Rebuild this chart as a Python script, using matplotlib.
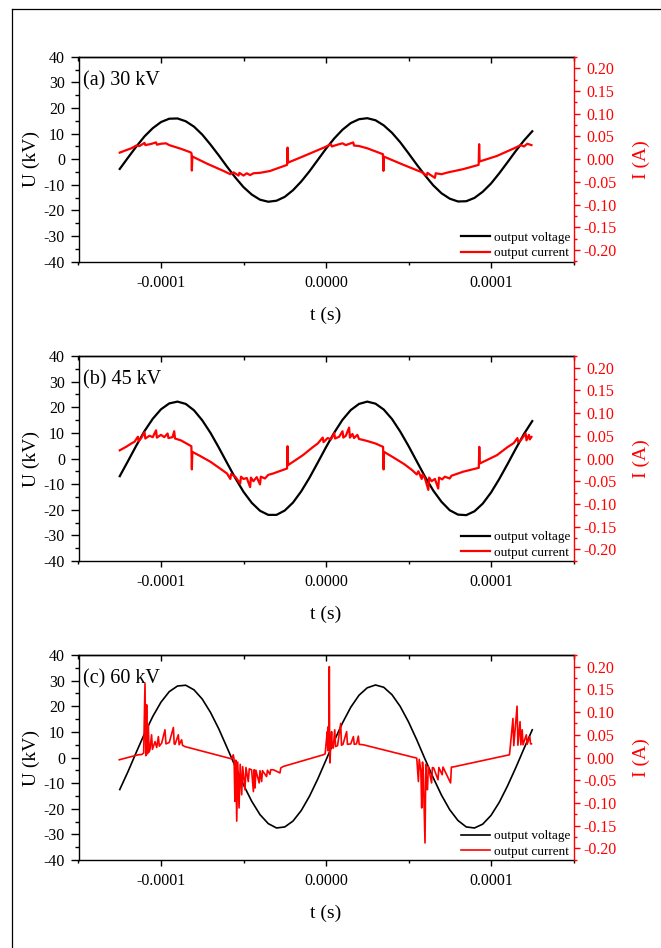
import matplotlib
matplotlib.use('Agg')
import numpy as np
import matplotlib.pyplot as plt
from matplotlib.lines import Line2D
from matplotlib.ticker import MultipleLocator, FormatStrFormatter

plt.rcParams['font.family'] = ['Liberation Serif', 'DejaVu Serif']
plt.rcParams['axes.unicode_minus'] = False

# Sampling instants of the voltage records, in microseconds
t_volt_us = [-125, -120, -115, -110, -105, -100, -95, -90, -85, -80,
             -75, -70, -65, -60, -55, -50, -45, -40, -35, -30,
             -25, -20, -15, -10, -5, 0, 5, 10, 15, 20,
             25, 30, 35, 40, 45, 50, 55, 60, 65, 70,
             75, 80, 85, 90, 95, 100, 105, 110, 115, 120, 125]

# Output voltage (kV)
volt_30kv = [-3.8, 0.6, 4.9, 8.9, 12.1, 14.5, 15.8, 15.9, 14.8, 12.7,
             9.6, 5.7, 1.5, -2.9, -7.1, -10.9, -13.8, -15.8, -16.6, -16.2,
             -14.7, -12.1, -8.7, -4.7, -0.3, 4.1, 8.1, 11.5, 14.1, 15.6,
             16.0, 15.2, 13.2, 10.3, 6.6, 2.3, -2.1, -6.3, -10.2, -13.3,
             -15.4, -16.5, -16.4, -15.1, -12.7, -9.5, -5.5, -1.2, 3.2, 7.3, 10.9]
volt_45kv = [-6.9, -1.0, 5.0, 10.7, 15.5, 19.2, 21.5, 22.2, 21.3, 18.8,
             14.9, 10.0, 4.3, -1.7, -7.6, -13.0, -17.3, -20.4, -22.0, -22.0,
             -20.3, -17.2, -12.8, -7.5, -1.6, 4.4, 10.1, 15.1, 18.9, 21.3,
             22.2, 21.4, 19.1, 15.4, 10.5, 4.9, -1.1, -7.1, -12.5, -16.9,
             -20.2, -21.9, -22.1, -20.6, -17.6, -13.3, -8.0, -2.2, 3.8, 9.6, 14.6]
volt_60kv = [-12.5, -5.5, 2.0, 9.3, 16.0, 21.6, 25.7, 27.9, 28.2, 26.4,
             22.8, 17.6, 11.2, 3.9, -3.5, -10.7, -17.1, -22.3, -25.8, -27.5,
             -27.1, -24.8, -20.7, -15.1, -8.4, -1.0, 6.5, 13.5, 19.6, 24.3,
             27.2, 28.3, 27.4, 24.5, 19.9, 13.9, 6.9, -0.6, -7.9, -14.7,
             -20.4, -24.6, -27.1, -27.5, -26.0, -22.6, -17.5, -11.1, -4.0, 3.5, 10.8]

# Output current as (t in microseconds, I in A)
cur_30kv = [(-125, 0.0145), (-121, 0.020), (-118, 0.024), (-115, 0.030), (-113, 0.029),
            (-110, 0.036), (-109.5, 0.031), (-106, 0.0336), (-103, 0.037), (-102.5, 0.032),
            (-100, 0.034), (-97, 0.035), (-95, 0.031), (-88, 0.023), (-82, 0.015),
            (-81.5, 0.013), (-81.3, -0.025), (-81.0, 0.006), (-72, -0.010), (-62, -0.026),
            (-58, -0.033), (-56, -0.029), (-53, -0.036), (-52.5, -0.030), (-50, -0.036),
            (-48, -0.031), (-46, -0.035), (-44, -0.031), (-40, -0.030), (-34, -0.026),
            (-23.6, -0.0125), (-23.3, 0.0255), (-23.0, -0.0075), (-14, 0.006), (-1, 0.026),
            (3, 0.033), (3.5, 0.028), (7, 0.032), (10, 0.035), (12, 0.031),
            (16.5, 0.037), (17, 0.030), (20, 0.029), (25, 0.024), (34.5, 0.011),
            (34.8, -0.0257), (35.1, 0.0057), (47, -0.0125), (58, -0.0286), (61, -0.036),
            (61.5, -0.030), (63, -0.034), (66, -0.041), (66.5, -0.031), (70, -0.033),
            (74, -0.029), (83, -0.022), (92.5, -0.0125), (92.8, 0.033), (93.1, -0.005),
            (103.5, 0.007), (114, 0.024), (118, 0.031), (120, 0.028), (122, 0.034),
            (124.5, 0.031)]

cur_45kv = [(-125, 0.018), (-121, 0.026), (-118, 0.033), (-116, 0.037), (-114, 0.048),
            (-113.5, 0.038), (-112, 0.045), (-110, 0.058), (-109.5, 0.044), (-107, 0.050),
            (-105, 0.047), (-103, 0.062), (-102.5, 0.046), (-100, 0.052), (-98, 0.047),
            (-96, 0.055), (-95.5, 0.045), (-93, 0.047), (-92, 0.060), (-91.5, 0.044),
            (-88, 0.040), (-85, 0.034), (-81.6, 0.027), (-81.3, -0.024), (-81.0, 0.0146),
            (-76, 0.005), (-70, -0.0073), (-65, -0.020), (-60, -0.033), (-58, -0.045),
            (-57.5, -0.034), (-55, -0.040), (-52, -0.055), (-51.5, -0.040), (-50, -0.045),
            (-48, -0.043), (-46, -0.063), (-45.5, -0.042), (-44, -0.050), (-42, -0.041),
            (-40, -0.057), (-39.5, -0.040), (-37, -0.044), (-35, -0.036), (-32, -0.033),
            (-29, -0.029), (-23.6, -0.022), (-23.3, 0.027), (-23.0, -0.0146), (-14, 0.0073),
            (-8, 0.025), (-5, 0.033), (-2, 0.046), (-1.5, 0.036), (1, 0.045),
            (3, 0.042), (5, 0.056), (5.5, 0.044), (8, 0.048), (10, 0.060),
            (10.5, 0.046), (12, 0.050), (14, 0.068), (14.5, 0.046), (16, 0.054),
            (17, 0.045), (19, 0.052), (20, 0.043), (24.5, 0.039), (30, 0.033),
            (34.6, 0.0256), (34.9, -0.024), (35.2, 0.0146), (41, 0.002), (47.4, -0.0124),
            (52, -0.025), (55, -0.035), (56, -0.028), (58, -0.045), (58.5, -0.035),
            (60, -0.044), (62, -0.069), (62.5, -0.042), (64, -0.050), (66, -0.045),
            (68, -0.066), (68.5, -0.042), (70.4, -0.046), (72, -0.040), (75, -0.044),
            (76, -0.038), (83.2, -0.029), (92.6, -0.0205), (92.9, 0.0256), (93.2, -0.011),
            (103.6, 0.0073), (110, 0.025), (113.8, 0.034), (116, 0.045), (116.5, 0.036),
            (118, 0.040), (121, 0.055), (121.5, 0.040), (123, 0.052), (123.5, 0.042),
            (124.5, 0.0475)]

cur_60kv = [(-125.3, -0.005), (-113.8, 0.006), (-111.7, 0.0065), (-110.5, 0.010), (-109.7, 0.163),
            (-109.2, 0.004), (-108.7, 0.116), (-108.2, 0.008), (-107.7, 0.072), (-107.2, 0.012),
            (-106.7, 0.017), (-105.7, 0.050), (-105.2, 0.018), (-103.6, 0.035), (-102.6, 0.022),
            (-101.6, 0.046), (-101.0, 0.025), (-99.6, 0.0316), (-97.6, 0.061), (-97.0, 0.030),
            (-95.0, 0.033), (-92.5, 0.066), (-92.0, 0.030), (-91.5, 0.029), (-89.5, 0.050),
            (-89.0, 0.028), (-87.5, 0.039), (-87.0, 0.027), (-85.5, 0.024), (-57.2, -0.003),
            (-56.2, 0.006), (-55.7, -0.004), (-55.2, -0.0965), (-54.7, -0.006), (-54.1, -0.140),
            (-53.5, -0.010), (-52.7, -0.111), (-52.0, -0.015), (-51.1, -0.082), (-50.5, -0.020),
            (-49.1, -0.071), (-48.5, -0.022), (-47.1, -0.053), (-46.5, -0.025), (-45.1, -0.027),
            (-44.0, -0.075), (-43.5, -0.027), (-43.0, -0.067), (-42.5, -0.028), (-40.5, -0.056),
            (-40.0, -0.029), (-39.0, -0.053), (-38.5, -0.029), (-36.0, -0.042), (-35.5, -0.028),
            (-34.0, -0.037), (-33.5, -0.027), (-31.9, -0.027), (-27.9, -0.034), (-27.4, -0.023),
            (-25.9, -0.0197), (-1.6, 0.006), (-0.5, 0.008), (0.3, 0.040), (0.8, 0.057),
            (1.1, 0.015), (1.4, 0.068), (1.7, 0.018), (2.0, 0.200), (2.2, 0.010),
            (2.4, -0.012), (2.8, 0.025), (3.4, 0.057), (3.8, 0.022), (4.4, 0.0206),
            (5.3, 0.061), (5.8, 0.024), (7.0, 0.026), (8.9, 0.075), (9.4, 0.027),
            (10.3, 0.029), (12.5, 0.057), (13.0, 0.029), (15.0, 0.030), (16.6, 0.046),
            (17.1, 0.029), (18.5, 0.030), (19.6, 0.047), (20.1, 0.029), (22.6, 0.028),
            (55.0, -0.0014), (56.0, -0.053), (56.5, -0.004), (57.5, -0.030), (58.0, -0.111),
            (58.5, -0.010), (59.0, -0.040), (60.0, -0.188), (60.5, -0.015), (61.0, -0.067),
            (61.5, -0.071), (62.0, -0.020), (64.0, -0.056), (64.5, -0.022), (65.3, -0.0234),
            (67.9, -0.049), (68.4, -0.022), (70.4, -0.038), (70.9, -0.021), (75.5, -0.056),
            (76.0, -0.021), (76.8, -0.021), (111.2, 0.006), (111.7, 0.024), (113.3, 0.086),
            (113.8, 0.026), (115.8, 0.113), (116.3, 0.027), (117.6, 0.079), (118.1, 0.028),
            (118.9, 0.061), (119.4, 0.028), (121.4, 0.050), (121.9, 0.029), (123.5, 0.046),
            (124.0, 0.030), (124.5, 0.030)]

panel_tags = ['(a) 30 kV', '(b) 45 kV', '(c) 60 kV']

W, H = 661, 948
fig = plt.figure(figsize=(W / 100, H / 100), dpi=100)

# page frame (left and top edges only)
fig.add_artist(Line2D([11.5 / W, 11.5 / W], [0, 1 - 9.3 / H], transform=fig.transFigure,
                      color='black', lw=0.9))
fig.add_artist(Line2D([11.5 / W, 1], [1 - 9.3 / H, 1 - 9.3 / H], transform=fig.transFigure,
                      color='black', lw=0.9))

ax_left = 78.5 / W
ax_width = 495 / W
ax_height = 205 / H
ax_bottoms_px = [261.7, 561.0, 860.0]


def draw_panel(bottom_px, volt, cur, tag, cur_lw, volt_lw):
    ax = fig.add_axes([ax_left, 1 - bottom_px / H, ax_width, ax_height])
    t_v = np.array(t_volt_us) * 1e-6
    lv, = ax.plot(t_v, volt, color='black', lw=volt_lw, label='output voltage')
    ax.set_xlim(-1.5e-4, 1.5e-4)
    ax.set_ylim(-40, 40)
    ax.xaxis.set_major_locator(MultipleLocator(1e-4))
    ax.xaxis.set_minor_locator(MultipleLocator(0.5e-4))
    ax.xaxis.set_major_formatter(FormatStrFormatter('%.4f'))
    ax.yaxis.set_major_locator(MultipleLocator(10))
    ax.yaxis.set_minor_locator(MultipleLocator(5))
    ax.tick_params(axis='both', which='both', direction='out', width=1.0,
                   labelsize=11.5, right=False, top=False)
    ax.tick_params(axis='y', which='major', length=5.5, pad=4.2)
    ax.tick_params(axis='y', which='minor', length=3)
    ax.tick_params(axis='x', which='major', length=4, pad=5.5)
    ax.tick_params(axis='x', which='minor', length=2.2)
    ax.spines['right'].set_visible(False)
    for s in ('left', 'bottom', 'top'):
        ax.spines[s].set_linewidth(1.0)

    # inward ticks along the top edge
    top = ax.secondary_xaxis('top')
    top.xaxis.set_major_locator(MultipleLocator(1e-4))
    top.xaxis.set_minor_locator(MultipleLocator(0.5e-4))
    top.tick_params(which='both', direction='in', labeltop=False, width=1.0)
    top.tick_params(which='major', length=4.5)
    top.tick_params(which='minor', length=3)
    top.spines['top'].set_linewidth(1.0)

    ax.set_xlabel('t (s)', fontsize=14)
    ax.xaxis.set_label_coords(0.5, -0.262)
    ax.xaxis.label.set_va('center')
    ax.set_ylabel('U (kV)', fontsize=14)
    ax.yaxis.set_label_coords(-0.0955, 0.5)
    ax.yaxis.label.set_va('center')

    ax.text(0.0097, 0.884, tag, transform=ax.transAxes, fontsize=14.5,
            ha='left', va='center')

    # current on the right-hand axis
    axr = ax.twinx()
    ct, ci = np.array(cur).T
    lc, = axr.plot(ct * 1e-6, ci, color='red', lw=cur_lw, label='output current')
    axr.set_xlim(-1.5e-4, 1.5e-4)
    axr.set_ylim(-0.2256, 0.2256)
    axr.yaxis.set_major_locator(MultipleLocator(0.05))
    axr.yaxis.set_minor_locator(MultipleLocator(0.025))
    axr.yaxis.set_major_formatter(FormatStrFormatter('%.2f'))
    axr.tick_params(axis='y', which='both', direction='out', colors='red',
                    width=1.0, labelsize=11.5)
    axr.tick_params(axis='y', which='major', length=4.5, pad=14.9)
    axr.tick_params(axis='y', which='minor', length=2.5)
    plt.setp(axr.get_yticklabels(), ha='center')
    for s in ('left', 'top', 'bottom'):
        axr.spines[s].set_visible(False)
    axr.spines['right'].set_color('red')
    axr.spines['right'].set_linewidth(1.0)
    axr.set_ylabel('I (A)', fontsize=14, color='red')
    axr.yaxis.set_label_coords(1.138, 0.5)
    axr.yaxis.label.set_va('center')

    axr.legend([lv, lc], ['output voltage', 'output current'], loc='lower right',
               bbox_to_anchor=(0.9935, 0.012), frameon=False, fontsize=9.5,
               handlelength=2.27, handletextpad=0.26, labelspacing=0.24,
               borderpad=0, borderaxespad=0)
    return ax, axr


draw_panel(ax_bottoms_px[0], volt_30kv, cur_30kv, panel_tags[0], 1.6, 1.6)
draw_panel(ax_bottoms_px[1], volt_45kv, cur_45kv, panel_tags[1], 1.6, 1.6)
draw_panel(ax_bottoms_px[2], volt_60kv, cur_60kv, panel_tags[2], 1.2, 1.2)

fig.savefig('out.png', dpi=100)
